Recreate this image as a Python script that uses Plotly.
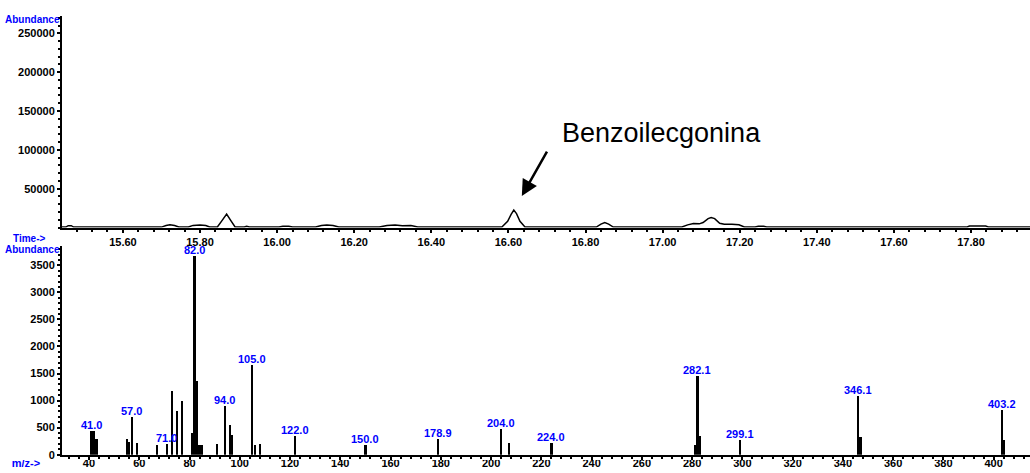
import plotly.graph_objects as go

# ---- Total ion chromatogram (retention time in min, abundance) ----
ret_time = [15.442, 15.452, 15.458, 15.466, 15.472, 15.700, 15.712, 15.722, 15.734, 15.745,
            15.770, 15.782, 15.800, 15.815, 15.825, 15.845, 15.857, 15.869, 15.880, 15.891,
            15.915, 15.921, 15.928, 16.005, 16.015, 16.030, 16.040, 16.100, 16.115, 16.129,
            16.145, 16.160, 16.265, 16.285, 16.306, 16.325, 16.347, 16.365, 16.583, 16.598,
            16.607, 16.614, 16.621, 16.630, 16.643, 16.828, 16.840, 16.850, 16.860, 16.872,
            17.050, 17.065, 17.080, 17.095, 17.105, 17.118, 17.126, 17.135, 17.148, 17.160,
            17.180, 17.198, 17.212, 17.240, 17.248, 17.262, 17.270, 17.372, 17.378, 17.390,
            17.396, 17.790, 17.796, 17.838, 17.845, 17.953]
tic_abund = [600, 700, 2400, 2400, 700, 600, 2600, 3600, 2600, 700,
             700, 2800, 3200, 2600, 700, 800, 9000, 17500, 9000, 800,
             700, 1800, 700, 700, 1800, 1800, 700, 700, 2600, 3300,
             2600, 700, 700, 2800, 3400, 2500, 2700, 700, 800, 8000,
             17000, 22500, 18000, 8000, 800, 700, 4500, 6500, 4500, 700,
             700, 3500, 5200, 4800, 6500, 11500, 12800, 11500, 5500, 4200,
             4400, 3600, 700, 700, 1700, 1700, 700, 700, 1600, 1600,
             700, 700, 1900, 1900, 700, 600]

# ---- Mass spectrum (m/z, abundance) ----
mz = [41.0, 42, 43, 55, 56, 57.0, 59, 67, 71.0, 73, 75, 77, 81, 82.0, 83, 84, 85, 91,
      94.0, 96, 97, 105.0, 106, 108, 122.0, 150.0, 178.9, 204.0, 207, 224.0, 281, 282.1,
      283, 299.1, 346.1, 347, 403.2, 404]
intensity = [435, 435, 284, 284, 234, 692, 210, 174, 201, 1180, 796, 997, 393, 3668, 1363,
             174, 174, 192, 905, 540, 357, 1656, 174, 192, 338, 174, 284, 466, 210, 210,
             174, 1450, 338, 265, 1088, 320, 832, 265]
labelled_mz = [41.0, 57.0, 71.0, 82.0, 94.0, 105.0, 122.0, 150.0, 178.9, 204.0, 224.0,
               282.1, 299.1, 346.1, 403.2]
mz_tick_labels = list(range(40, 401, 20))

compound_name = "Benzoilecgonina"
compound_peak_time = 16.614

W, H = 1030, 473
SANS = "Liberation Sans, Arial, sans-serif"
BLUE = "#0000ff"

# pixel layout of the two panels
X0 = 62                      # left edge of both plot areas
TOP_Y0, TOP_Y1 = 230.5, 16   # chromatogram: axis line / top
MS_Y0, MS_Y1 = 460.5, 249.3  # spectrum: axis line / top
MZ_RANGE = [29.26, 414.45]
T_RANGE = [15.442, 17.953]

# m/z axis extended to the left page edge (same scale as the spectrum axis),
# used for the strip of m/z tick labels that runs off the bottom edge
mz_per_px = (MZ_RANGE[1] - MZ_RANGE[0]) / (W - X0)
strip_range = [MZ_RANGE[0] - X0 * mz_per_px, MZ_RANGE[1]]
strip_h = H - 466            # strip from y=466 px down to the page edge

fig = go.Figure()
fig.add_trace(go.Scatter(x=ret_time, y=tic_abund, mode="lines",
                         line=dict(color="black", width=1.5),
                         xaxis="x", yaxis="y", hoverinfo="skip", showlegend=False))
fig.add_trace(go.Bar(x=mz, y=intensity, width=0.9,
                     marker=dict(color="black", line=dict(width=0)),
                     xaxis="x2", yaxis="y2", hoverinfo="skip", showlegend=False))

# m/z tick labels + caption, clipped by the bottom strip
strip_x = mz_tick_labels + [strip_range[0] + 26 * mz_per_px]
strip_text = [str(v) for v in mz_tick_labels] + ["m/z->"]
strip_col = ["black"] * len(mz_tick_labels) + [BLUE]
fig.add_trace(go.Scatter(x=strip_x, y=[strip_h - 4.5] * len(strip_x), mode="text",
                         text=strip_text, textposition="middle center",
                         textfont=dict(family=SANS, size=11, color=strip_col, weight="bold"),
                         cliponaxis=True, xaxis="x3", yaxis="y3",
                         hoverinfo="skip", showlegend=False))

tickfont = dict(family=SANS, size=11, color="black", weight="bold")
axis_common = dict(showline=True, linecolor="black", linewidth=2, ticks="outside",
                   ticklen=3, tickwidth=1.5, tickcolor="black", showgrid=False,
                   zeroline=False, tickfont=tickfont, fixedrange=True)
minor_common = dict(ticks="outside", ticklen=2, tickwidth=1.5, tickcolor="black")

x_dom = [X0 / W, 1.0]
fig.update_layout(
    width=W, height=H, margin=dict(l=0, r=0, t=0, b=0),
    paper_bgcolor="white", plot_bgcolor="rgba(0,0,0,0)", bargap=0,
    xaxis=dict(domain=x_dom, anchor="y", range=T_RANGE, tick0=15.6, dtick=0.2,
               tickformat=".2f", minor=dict(tick0=15.6, dtick=0.04, **minor_common),
               **axis_common),
    yaxis=dict(domain=[1 - TOP_Y0 / H, 1 - TOP_Y1 / H], anchor="x", range=[0, 272500],
               tickvals=[50000, 100000, 150000, 200000, 250000], tickformat="d",
               minor=dict(tick0=0, dtick=10000, **minor_common),
               **axis_common),
    xaxis2=dict(domain=x_dom, anchor="y2", range=MZ_RANGE, tick0=0, dtick=20,
                showticklabels=False,
                minor=dict(tick0=0, dtick=4, **minor_common),
                **axis_common),
    yaxis2=dict(domain=[1 - MS_Y0 / H, 1 - MS_Y1 / H], anchor="x2", range=[0, 3855],
                tick0=0, dtick=500, tickformat="d",
                minor=dict(tick0=0, dtick=100, **minor_common),
                **axis_common),
    xaxis3=dict(domain=[0, 1], anchor="y3", range=strip_range, visible=False,
                fixedrange=True),
    yaxis3=dict(domain=[0, strip_h / H], anchor="x3", range=[0, strip_h], visible=False,
                fixedrange=True),
)

annotations = []
# peak labels above the spectrum bars
for m in labelled_mz:
    annotations.append(dict(x=m, y=intensity[mz.index(m)], xref="x2", yref="y2",
                            text=f"{m:.1f}", showarrow=False, yanchor="bottom",
                            xanchor="center", yshift=-2,
                            font=dict(family=SANS, size=11, color=BLUE, weight="bold")))

# axis captions
label_font = dict(family=SANS, size=10, color=BLUE, weight="bold")
annotations += [
    dict(x=X0 / W, y=1 - 20 / H, xref="paper", yref="paper", text="Abundance",
         showarrow=False, xanchor="right", yanchor="middle", font=label_font),
    dict(x=11 / W, y=1 - 242 / H, xref="paper", yref="paper", text="Time->",
         showarrow=False, xanchor="left", yanchor="middle", font=label_font),
    dict(x=X0 / W, y=1 - 253 / H, xref="paper", yref="paper", text="Abundance",
         showarrow=False, xanchor="right", yanchor="middle", font=label_font),
]

# compound callout
peak_abund = tic_abund[ret_time.index(compound_peak_time)]
annotations += [
    dict(x=661 / W, y=1 - 135 / H, xref="paper", yref="paper", text=compound_name,
         showarrow=False, xanchor="center", yanchor="middle",
         font=dict(family=SANS, size=27, color="black")),
    dict(x=compound_peak_time, y=peak_abund, xref="x", yref="y", text="",
         showarrow=True, xshift=8, yshift=14, ax=26, ay=-46,
         arrowhead=2, arrowsize=1.3, arrowwidth=2.5, arrowcolor="black", standoff=0),
]
fig.update_layout(annotations=annotations)

fig.write_html("out.html")
